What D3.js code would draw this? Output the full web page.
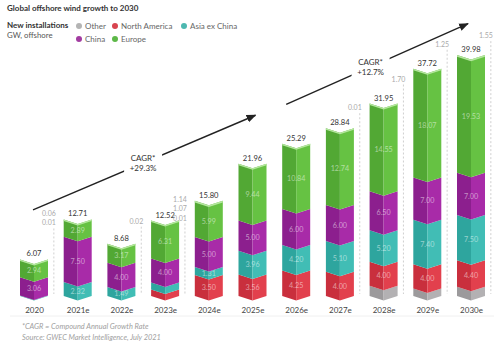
<!DOCTYPE html>
<html>
<head>
<meta charset="utf-8">
<script src="https://cdn.jsdelivr.net/npm/d3@7"></script>
<style>
  html, body { margin: 0; padding: 0; background: #fff; }
  svg { display: block; font-family: "Lato", "Open Sans", sans-serif; }
</style>
</head>
<body>
<svg id="chart" width="496" height="347"></svg>
<script>
// ---------- data ----------
const categories   = ["2020","2021e","2022e","2023e","2024e","2025e","2026e","2027e","2028e","2029e","2030e"];
const other        = [0.00, 0.00, 0.02, 0.01, 0.00, 0.00, 0.00, 0.01, 1.70, 1.25, 1.55];
const northAmerica = [0.01, 0.00, 0.00, 1.07, 3.50, 3.56, 4.25, 4.00, 4.00, 4.00, 4.40];
const asiaExChina  = [0.06, 2.32, 1.49, 1.14, 1.31, 3.96, 4.20, 5.10, 5.20, 7.40, 7.50];
const china        = [3.06, 7.50, 4.00, 4.00, 5.00, 5.00, 6.00, 6.00, 6.50, 7.00, 7.00];
const europe       = [2.94, 2.89, 3.17, 6.31, 5.99, 9.44, 10.84, 12.74, 14.55, 18.07, 19.53];
const totals       = [6.07, 12.71, 8.68, 12.52, 15.80, 21.96, 25.29, 28.84, 31.95, 37.72, 39.98];
const callouts     = [["0.06","0.01"], [], ["0.02"], ["1.14","1.07","0.01"], [], [], [], ["0.01"], ["1.70"], ["1.25"], ["1.55"]];
const seriesNames  = ["Other","North America","Asia ex China","China","Europe"];
const cagrLabels   = [["CAGR*","+29.3%"], ["CAGR*","+12.7%"]];

// ---------- styles ----------
const faceColors = {
  "Other":         {left:"#9c9a9c", right:"#b3b1b3", top:"#d2d0d2", dot:"#b4b4b4"},
  "North America": {left:"#c92f3d", right:"#e2404d", top:"#ee8a92", dot:"#d8444f"},
  "Asia ex China": {left:"#2ea59e", right:"#41bdb5", top:"#8fdad5", dot:"#4db8b0"},
  "China":         {left:"#8c1f8e", right:"#a82ba8", top:"#d48ad4", dot:"#a23ca1"},
  "Europe":        {left:"#52a834", right:"#66c243", top:"#b5e69f", dot:"#5db848"}
};

const rows = categories.map((c, i) => ({
  cat: c, i,
  "Other": other[i], "North America": northAmerica[i], "Asia ex China": asiaExChina[i],
  "China": china[i], "Europe": europe[i]
}));

const svg = d3.select("#chart");

const x = d3.scalePoint().domain(categories).range([34, 471]);
const step = x.step();
const bw = 28;
const y = d3.scaleLinear().domain([0, 40]).range([296, 55]);
const d = 4.5; // chevron depth

const stack = d3.stack().keys(seriesNames)(rows);

const gBars = svg.append("g");

function leftFace(xc, yt, yb) {
  const x0 = xc - bw / 2;
  return `M${x0},${yt} L${xc},${yt + d} L${xc},${yb + d} L${x0},${yb} Z`;
}
function rightFace(xc, yt, yb) {
  const x1 = xc + bw / 2;
  return `M${xc},${yt + d} L${x1},${yt} L${x1},${yb} L${xc},${yb + d} Z`;
}

stack.forEach(layer => {
  const key = layer.key;
  const col = faceColors[key];
  const g = gBars.append("g");
  layer.forEach((s, i) => {
    const v = s[1] - s[0];
    if (v <= 0) return;
    const xc = x(categories[i]);
    const yt = y(s[1]), yb = y(s[0]);
    g.append("path").attr("d", leftFace(xc, yt, yb)).attr("fill", col.left);
    g.append("path").attr("d", rightFace(xc, yt, yb)).attr("fill", col.right);
    if (key !== "Other" && v >= 1.3) {
      g.append("text")
        .attr("x", xc).attr("y", (yt + yb) / 2 + d / 2 + 2.5)
        .attr("text-anchor", "middle")
        .attr("font-size", 7.2)
        .attr("fill", "rgba(255,255,255,0.5)")
        .text(v.toFixed(2));
    }
  });
});

// top faces + total labels
const topLayer = stack[stack.length - 1];
topLayer.forEach((s, i) => {
  const xc = x(categories[i]);
  const yt = y(s[1]);
  const x0 = xc - bw / 2, x1 = xc + bw / 2;
  gBars.append("path")
    .attr("d", `M${x0},${yt} L${xc},${yt + d} L${x1},${yt} L${x1},${yt + 1.6} L${xc},${yt + d + 1.6} L${x0},${yt + 1.6} Z`)
    .attr("fill", faceColors["Europe"].top);
  gBars.append("text")
    .attr("x", xc).attr("y", yt - 3)
    .attr("text-anchor", "middle")
    .attr("font-size", 7.6)
    .attr("fill", "#333")
    .text(totals[i].toFixed(2));
});

// callouts (small values) with dashed leader lines
const calloutShift = {"2020": -31, "2022e": -17, "2023e": 3, "2027e": -15, "2028e": -19, "2029e": -19, "2030e": -14};
callouts.forEach((list, i) => {
  if (!list.length) return;
  const c = categories[i];
  const lx = x(c) + step / 2 - 2;
  const totalY = y(topLayer[i][1]) - 3;
  const lastY = totalY + (calloutShift[c] || -17);
  list.forEach((t, k) => {
    svg.append("text")
      .attr("x", lx + 2).attr("y", lastY - (list.length - 1 - k) * 9.5)
      .attr("text-anchor", "end")
      .attr("font-size", 7)
      .attr("fill", "#aaa")
      .text(t);
  });
  svg.append("line")
    .attr("x1", lx).attr("x2", lx)
    .attr("y1", lastY + 3).attr("y2", y(0) - 2)
    .attr("stroke", "#c4c4c4").attr("stroke-width", 0.8)
    .attr("stroke-dasharray", "2,2");
});

// baseline
svg.append("line").attr("x1", 10).attr("x2", 494).attr("y1", 316).attr("y2", 316)
  .attr("stroke", "#f0f0f0").attr("stroke-width", 1);

// category axis labels
const xAxis = d3.axisBottom(x).tickSize(0).tickPadding(0);
const ax = svg.append("g").attr("transform", `translate(0,${y(0) + 11})`).call(xAxis);
ax.select(".domain").remove();
ax.selectAll("text").attr("font-size", 8).attr("fill", "#444").attr("font-family", "Lato, sans-serif").attr("dy", "0.71em");

// CAGR arrows
const defs = svg.append("defs");
defs.append("marker").attr("id", "arr").attr("viewBox", "0 0 10 10")
  .attr("refX", 9).attr("refY", 5).attr("markerWidth", 7).attr("markerHeight", 7)
  .attr("orient", "auto")
  .append("path").attr("d", "M0,1 L10,5 L0,9 Z").attr("fill", "#222");

const arrows = [
  {x1: x("2020") - 1, y1: y(14.3), x2: x("2025e") + 3, y2: y(30.0), lx: x("2023e") - 22},
  {x1: x("2026e") - 10, y1: y(31.8), x2: x("2030e") - 3, y2: y(45.2), lx: x("2028e") - 13}
];
arrows.forEach((a, k) => {
  svg.append("line")
    .attr("x1", a.x1).attr("y1", a.y1).attr("x2", a.x2).attr("y2", a.y2)
    .attr("stroke", "#222").attr("stroke-width", 1.4)
    .attr("marker-end", "url(#arr)");
  const t = (a.lx - a.x1) / (a.x2 - a.x1);
  const ly = a.y1 + t * (a.y2 - a.y1);
  svg.append("rect").attr("x", a.lx - 19).attr("y", ly - 10).attr("width", 38).attr("height", 21).attr("fill", "#fff");
  cagrLabels[k].forEach((s, j) => {
    svg.append("text").attr("x", a.lx).attr("y", ly - 2 + j * 10)
      .attr("text-anchor", "middle").attr("font-size", 8).attr("fill", "#333").text(s);
  });
});

// title & legend
svg.append("text").attr("x", 7).attr("y", 11).attr("font-size", 8).attr("font-weight", "bold")
  .attr("fill", "#333").text("Global offshore wind growth to 2030");
svg.append("text").attr("x", 7).attr("y", 28).attr("font-size", 8).attr("font-weight", "bold")
  .attr("fill", "#333").text("New installations");
svg.append("text").attr("x", 7).attr("y", 37.5).attr("font-size", 7.8)
  .attr("fill", "#555").text("GW, offshore");

const legendItems = [
  {name: "Other", lx: 79, ly: 26},
  {name: "North America", lx: 115, ly: 26},
  {name: "Asia ex China", lx: 184, ly: 26},
  {name: "China", lx: 79, ly: 39},
  {name: "Europe", lx: 115, ly: 39}
];
legendItems.forEach(it => {
  svg.append("circle").attr("cx", it.lx).attr("cy", it.ly).attr("r", 3).attr("fill", faceColors[it.name].dot);
  svg.append("text").attr("x", it.lx + 6).attr("y", it.ly + 3).attr("font-size", 8)
    .attr("fill", "#666").text(it.name);
});

// footnote
svg.append("text").attr("x", 22).attr("y", 329).attr("font-size", 7.4).attr("font-style", "italic")
  .attr("fill", "#a0a0a0").text("*CAGR = Compound Annual Growth Rate");
svg.append("text").attr("x", 22).attr("y", 340).attr("font-size", 7.4).attr("font-style", "italic")
  .attr("fill", "#a0a0a0").text("Source: GWEC Market Intelligence, July 2021");
</script>
</body>
</html>
